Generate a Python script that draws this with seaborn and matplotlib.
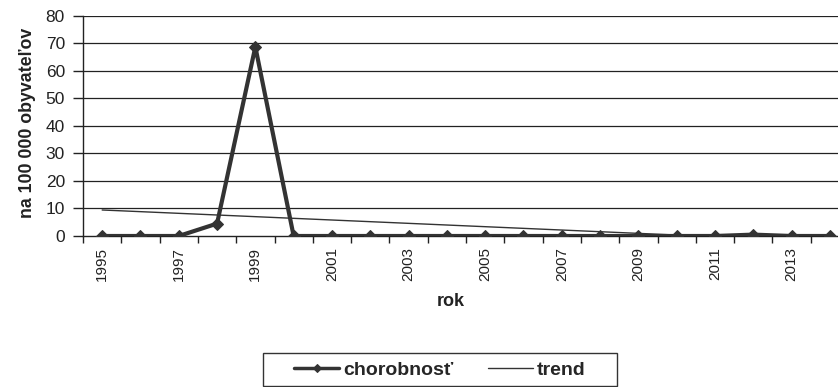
import numpy as np
import pandas as pd
import matplotlib
matplotlib.use("Agg")
import matplotlib.pyplot as plt
from matplotlib.patches import Rectangle
import seaborn as sns

# Incidence per 100 000 inhabitants by year
years = list(range(1995, 2015))
incidence = [0, 0, 0, 4.5, 68.7, 0, 0, 0, 0, 0,
             0, 0, 0, 0, 0, 0, 0, 0.5, 0, 0]
year_labels = [str(y) if (y - 1995) % 2 == 0 else "" for y in years]
y_ticks = [0, 10, 20, 30, 40, 50, 60, 70, 80]

sns.set_theme(style="white")
plt.rcParams["font.family"] = ["Liberation Sans", "DejaVu Sans"]

W, H = 838, 387
fig = plt.figure(figsize=(W / 100, H / 100), dpi=100)
left, right, bottom, top = 83, 849, 236, 15.7
ax = fig.add_axes([left / W, 1 - bottom / H, (right - left) / W, (bottom - top) / H])

idx = np.arange(len(years))
df = pd.DataFrame({"idx": idx, "chorobnosť": incidence})

# linear trend fitted to the series
slope, intercept = np.polyfit(idx, incidence, 1)
df["trend"] = intercept + slope * idx

# gridlines
for v in y_ticks[1:]:
    ax.axhline(v, color="#222222", lw=0.9, zorder=0)

sns.lineplot(data=df, x="idx", y="trend", ax=ax, color="#333333", lw=1.0,
             label="trend", zorder=2)
sns.lineplot(data=df, x="idx", y="chorobnosť", ax=ax, color="#333333", lw=3.0,
             marker="D", markersize=6.5, markeredgecolor="#333333",
             label="chorobnosť", zorder=3)

ax.set_xlim(-0.5, len(years) - 0.5)
ax.set_ylim(0, 80)

# category axis: tick marks between categories, labels at centres
ax.set_xticks(np.arange(-0.5, len(years), 1.0))
ax.set_xticklabels([])
ax.set_xticks(idx, minor=True)
ax.set_xticklabels(year_labels, minor=True, rotation=90, fontsize=11,
                   color="#222222")
ax.tick_params(axis="x", which="major", length=5, width=1, color="#222222",
               direction="out", bottom=True)
ax.tick_params(axis="x", which="minor", length=0, pad=8, bottom=True)

ax.set_yticks(y_ticks)
ax.set_yticklabels([str(v) for v in y_ticks], fontsize=12.5, color="#222222")
ax.tick_params(axis="y", length=7, width=1, color="#222222", direction="out",
               left=True, pad=6)

for s in ["top", "right"]:
    ax.spines[s].set_visible(False)
for s in ["left", "bottom"]:
    ax.spines[s].set_color("#222222")
    ax.spines[s].set_linewidth(1.0)

ax.set_xlabel("rok", fontsize=13, fontweight="bold", color="#222222")
ax.xaxis.set_label_coords((451 - left) / (right - left), -(301 - bottom) / (bottom - top))
ax.xaxis.label.set_verticalalignment("center")
ax.set_ylabel("na 100 000 obyvateľov", fontsize=12.8, fontweight="bold",
              color="#222222")
ax.yaxis.set_label_coords(-(83 - 28) / (right - left), (bottom - 123) / (bottom - top))
ax.yaxis.label.set_verticalalignment("center")

# legend: series first, then trend, inside a wide box below the chart
handles, labels = ax.get_legend_handles_labels()
order = [labels.index("chorobnosť"), labels.index("trend")]
ax.get_legend().remove()
leg = fig.legend([handles[i] for i in order], [labels[i] for i in order],
                 loc="center", bbox_to_anchor=(440 / W, 1 - 370 / H),
                 ncol=2, frameon=False,
                 handlelength=2.3, columnspacing=1.8, handletextpad=0.2,
                 borderpad=0.35, borderaxespad=0,
                 prop={"weight": "bold", "size": 14})
for h in leg.legend_handles:
    h.set_markersize(4)
leg.legend_handles[0].set_linewidth(2.5)

box_l, box_r, box_t, box_b = 263, 617, 353, 386
fig.patches.append(Rectangle((box_l / W, 1 - box_b / H), (box_r - box_l) / W,
                             (box_b - box_t) / H, transform=fig.transFigure,
                             fill=False, edgecolor="#333333", lw=1.0))

fig.savefig("out.png", dpi=100)
